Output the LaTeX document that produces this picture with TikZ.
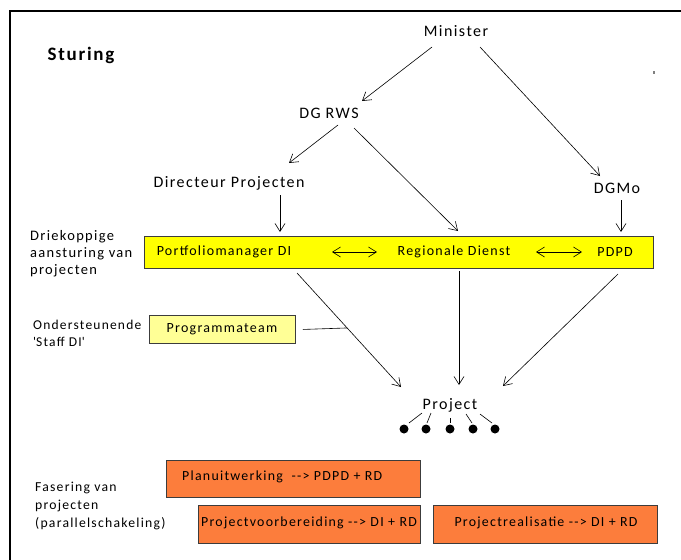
\documentclass[tikz,border=0pt]{standalone}
\usepackage{fontspec}
\setmainfont{Carlito}[LetterSpace=9,Ligatures=TeXOff]
\usetikzlibrary{arrows.meta,calc}
\definecolor{boxyellow}{RGB}{255,255,0}
\definecolor{lightyellow}{RGB}{255,255,150}
\definecolor{orangefill}{RGB}{252,125,60}
\definecolor{edgegray}{RGB}{60,60,60}
\begin{document}
\begin{tikzpicture}[x=1pt,y=-1pt,
  lbl/.style={inner sep=0pt,font=\fontsize{16}{19}\selectfont},
  boxtxt/.style={inner sep=0pt,font=\fontsize{14}{17}\selectfont},
  otxt/.style={inner sep=0pt,font=\fontsize{13.9}{16}\selectfont},
  side/.style={inner sep=0pt,anchor=west,align=left,font=\fontsize{13.5}{17}\selectfont},
  tip/.tip={Straight Barb[length=8pt,width=10pt,line width=0.6pt]},
  arr/.style={draw=black,line width=0.6pt,-tip},
  darr/.style={draw=black,line width=0.6pt,tip-tip},
  ln/.style={draw=black,line width=0.6pt},
  ybox/.style={draw=edgegray,line width=0.9pt,fill=boxyellow,anchor=north west,inner sep=0pt},
  pbox/.style={draw=edgegray,line width=0.9pt,fill=lightyellow,anchor=north west,inner sep=0pt},
  obox/.style={draw=edgegray,line width=0.9pt,fill=orangefill,anchor=north west,inner sep=0pt},
  dot/.style={circle,fill=black,inner sep=0pt,minimum size=9pt}
]
\useasboundingbox (0,0) rectangle (681,560);
% frame
\draw[line width=1.6pt] (681,11) -- (10,11) -- (10,560);
\fill[gray] (653,71) rectangle (655,74);

% titles and labels
\node[inner sep=0pt,font=\fontsize{19}{22}\selectfont\bfseries] (sturing) at (81,55) {Sturing};
\node[lbl] (min) at (456,31) {Minister};
\node[lbl] (dgrws) at (329,113) {DG RWS};
\node[lbl] (dir) at (229,183) {Directeur Projecten};
\node[lbl] (dgmo) at (617,188) {DGMo};

% yellow box
\node[ybox,minimum width=509pt,minimum height=32pt] (ybar) at (144,236) {};
\node[boxtxt] (port) at (224,252) {Portfoliomanager DI};
\node[boxtxt] (reg) at (454,252) {Regionale Dienst};
\node[boxtxt] (pdpd) at (615,252) {PDPD};

\draw[darr] ([xshift=108pt]port.center) -- ([xshift=-77pt]reg.center);
\draw[darr] ([xshift=82pt]reg.center) -- ([xshift=-33pt]pdpd.center);

% programmateam
\node[pbox,minimum width=146pt,minimum height=28pt] (prog) at (149,315) {};
\node[boxtxt] (progt) at (222,329) {Programmateam};

% side labels
\node[side,font=\fontsize{14.5}{16.8}\selectfont] (lab1) at (30,254) {Driekoppige\\aansturing van\\projecten};
\node[side] (lab2) at (33,333) {Ondersteunende\\\textquotesingle Staff DI\textquotesingle};
\node[side,font=\fontsize{13.7}{18}\selectfont] (lab3) at (35,506) {Fasering van\\projecten\\(parallelschakeling)};

% project
\node[lbl] (proj) at (450,405) {Project};
\node[dot] (d1) at (404,429) {};
\node[dot] (d2) at (426,429) {};
\node[dot] (d3) at (450,429) {};
\node[dot] (d4) at (473,429) {};
\node[dot] (d5) at (495,429) {};
\draw[ln] ([shift={(-28,8)}]proj.center) -- ([shift={(5,-6)}]d1.center);
\draw[ln] ([shift={(-19,8)}]proj.center) -- ([shift={(1,-6)}]d2.center);
\draw[ln] ([shift={(0,13)}]proj.center) -- ([shift={(0,-6)}]d3.center);
\draw[ln] ([shift={(16,9)}]proj.center) -- ([shift={(-1,-6)}]d4.center);
\draw[ln] ([shift={(30,9)}]proj.center) -- ([shift={(-3,-6)}]d5.center);

% connectors
\draw[arr] ([shift={(-24,16)}]min.center) -- ([shift={(33,-12)}]dgrws.center);
\draw[arr] ([shift={(24,16)}]min.center) -- ([shift={(-17,-12)}]dgmo.center);
\draw[arr] ([shift={(9,12)}]dgrws.center) -- ([shift={(60,-20)}]dir.center);
\draw[arr] ([shift={(25,15)}]dgrws.center) -- ([shift={(4,-21)}]reg.center);
\draw[arr] ([shift={(51,12)}]dir.center) -- ([shift={(56,-20)}]port.center);
\draw[arr] ([shift={(4,12)}]dgmo.center) -- ([shift={(6,-20)}]pdpd.center);
\draw[arr] ([shift={(73,21)}]port.center) -- coordinate[pos=0.482] (join) ([shift={(-49,-18)}]proj.center);
\draw[arr] ([shift={(5,19)}]reg.center) -- ([shift={(9,-20)}]proj.center);
\draw[arr] ([shift={(3,22)}]pdpd.center) -- ([shift={(53,-19)}]proj.center);
\draw[ln] ([xshift=7pt]prog.east) -- (join);

% phases
\node[obox,minimum width=254pt,minimum height=37pt] (plan) at (166,460) {};
\node[otxt,anchor=west] (plant) at (182,477) {Planuitwerking\ \ --> PDPD + RD};
\node[obox,minimum width=222pt,minimum height=38pt] (voor) at (198,505) {};
\node[otxt] (voort) at (309,523) {Projectvoorbereiding --> DI + RD};
\node[obox,minimum width=224pt,minimum height=38pt] (real) at (433,505) {};
\node[otxt] (realt) at (546,523) {Projectrealisatie --> DI + RD};
\end{tikzpicture}
\end{document}
